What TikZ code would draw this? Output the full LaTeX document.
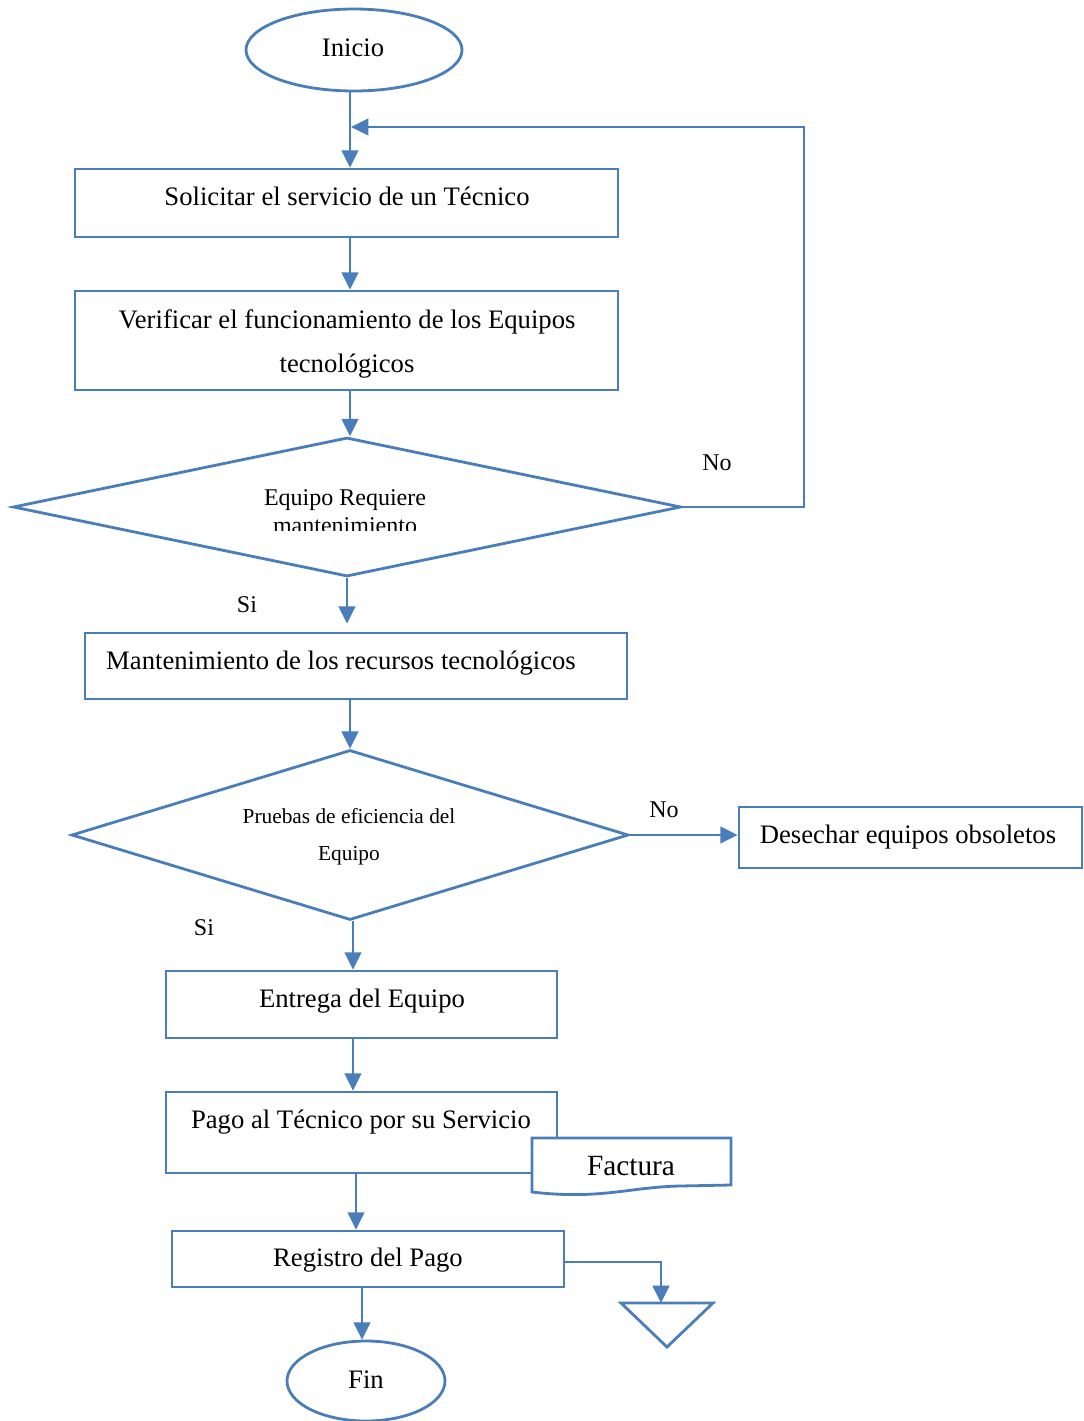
\documentclass[tikz,border=0pt]{standalone}
\usepackage{fontspec}
\setmainfont{Liberation Serif}
\usetikzlibrary{shapes.geometric,arrows.meta}
\definecolor{flowblue}{RGB}{74,126,187}
\begin{document}
\begin{tikzpicture}[x=0.75pt,y=-0.75pt,
  outline/.style={draw=flowblue,line width=2.1pt,fill=white,inner sep=0pt},
  box/.style={outline,rectangle},
  oval/.style={outline,ellipse},
  decision/.style={outline,diamond},
  conn/.style={draw=flowblue,line width=1.9pt,-{Triangle[length=13pt,width=12.5pt]}},
  thin conn/.style={conn,line width=1.5pt},
  txt/.style={anchor=base,inner sep=0pt,font=\fontsize{20}{24}\selectfont},
  smalltxt/.style={txt,font=\fontsize{18}{22}\selectfont},
  tinytxt/.style={txt,font=\fontsize{16}{20}\selectfont},
  lbl/.style={txt,font=\fontsize{18}{22}\selectfont},
]
\useasboundingbox (0,0) rectangle (1083,1421);

% vertical axes for the straight arrows
\coordinate (ax350) at (350,0);
\coordinate (ax348) at (348,0);
\coordinate (ax353) at (353,0);
\coordinate (ax356) at (356,0);
\coordinate (ax362) at (362,0);

% shapes
\node[oval,minimum width=216*0.75pt,minimum height=82*0.75pt] (start) at (354,50) {};
\node[box,minimum width=543*0.75pt,minimum height=68*0.75pt] (b1) at (346.5,203) {};
\node[box,minimum width=543*0.75pt,minimum height=99*0.75pt] (b2) at (346.5,340.5) {};
\node[decision,minimum width=668*0.75pt,minimum height=139*0.75pt] (d1) at (347,507) {};
\node[box,minimum width=542*0.75pt,minimum height=66*0.75pt] (b3) at (356,666) {};
\node[decision,minimum width=557*0.75pt,minimum height=170*0.75pt] (d2) at (350,835) {};
\node[box,minimum width=343*0.75pt,minimum height=61*0.75pt] (b4) at (910.5,837.5) {};
\node[box,minimum width=391*0.75pt,minimum height=67*0.75pt] (b5) at (361.5,1004.5) {};
\node[box,minimum width=391*0.75pt,minimum height=81*0.75pt] (b6) at (361.5,1132.5) {};
\node[box,minimum width=392*0.75pt,minimum height=56*0.75pt] (b7) at (368,1259) {};
\node[oval,minimum width=158*0.75pt,minimum height=80*0.75pt] (end) at (366,1381) {};

% document symbol with a wavy lower edge
\draw[draw=flowblue,line width=2.1pt,fill=white]
  (532,1138) -- (731,1138) -- (731,1185) -- (680,1186)
  .. controls (630,1187) and (600,1200) .. (532,1192) -- cycle;
\coordinate (doc) at (631,1165);

% storage triangle
\coordinate (tri) at (661,1303);
\draw[draw=flowblue,line width=2.1pt] (621,1303) -- (713,1303) -- (667,1347) -- cycle;

% texts
\node[txt] (tstart) at (353,56) {Inicio};
\node[txt] (tb1) at (347,205) {Solicitar el servicio de un Técnico};
\node[txt] (tb2a) at (347,328) {Verificar el funcionamiento de los Equipos};
\node[txt] (tb2b) at (347,372) {tecnológicos};
\node[smalltxt] (td1a) at (345,505) {Equipo Requiere};
\begin{scope}
  \clip (250,510) rectangle (440,530);
  \node[smalltxt] (td1b) at (345,533) {mantenimiento};
\end{scope}
\node[txt] (tb3) at (341,669) {Mantenimiento de los recursos tecnológicos};
\node[tinytxt] (td2a) at (349,823) {Pruebas de eficiencia del};
\node[tinytxt] (td2b) at (349,860) {Equipo};
\node[txt] (tb4) at (908,843) {Desechar equipos obsoletos};
\node[txt] (tb5) at (362,1007) {Entrega del Equipo};
\node[txt] (tb6) at (361,1128) {Pago al Técnico por su Servicio};
\node[txt,font=\fontsize{22}{26}\selectfont] (tdoc) at (631,1175) {Factura};
\node[txt] (tb7) at (368,1266) {Registro del Pago};
\node[txt] (tend) at (366,1388) {Fin};

% branch labels
\node[lbl] (no1) at (717,470) {No};
\node[lbl] (si1) at (247,612) {Si};
\node[lbl] (no2) at (664,817) {No};
\node[lbl] (si2) at (204,935) {Si};

% connectors
\draw[conn] (start.south -| ax350) -- (b1.north -| ax350);
\draw[conn] (b1.south -| ax350) -- (b2.north -| ax350);
\draw[conn] (b2.south -| ax350) -- (d1.north -| ax350);
\draw[conn,shorten >=6pt] (d1.south) -- (b3.north -| d1.south);
\draw[conn] (b3.south -| ax350) -- (d2.north -| ax350);
\draw[conn] (d2.east) -- (b4.west |- d2.east);
\draw[conn] (d2.south -| ax353) -- (b5.north -| ax353);
\draw[conn] (b5.south -| ax353) -- (b6.north -| ax353);
\draw[conn] (b6.south -| ax356) -- (b7.north -| ax356);
\draw[conn] (b7.south -| ax362) -- (end.north -| ax362);

% loop back when no maintenance is needed
\coordinate (loopA) at (804,507);
\coordinate (loopB) at (804,127);
\coordinate (loopEnd) at (351,127);
\draw[thin conn] (d1.east) -- (loopA) -- (loopB) -- (loopEnd);

% record to storage
\coordinate (storeTurn) at (661,1262);
\draw[conn] (b7.east |- storeTurn) -- (storeTurn) -- (tri);
\end{tikzpicture}
\end{document}
